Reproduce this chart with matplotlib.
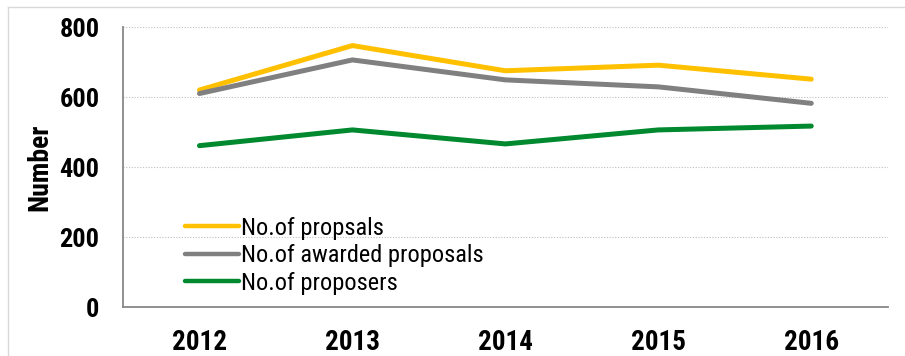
import matplotlib.pyplot as plt
from matplotlib.lines import Line2D

years = ['2012', '2013', '2014', '2015', '2016']
proposals = [620, 747, 675, 691, 651]
awarded = [610, 706, 649, 629, 582]
proposers = [461, 506, 466, 506, 517]

# Arial Narrow is not around, take a condensed face instead
bold_font = ['Roboto Condensed', 'Asap Condensed', 'DejaVu Sans']
reg_font = ['Roboto Condensed', 'Archivo Narrow', 'DejaVu Sans']

fig = plt.figure(figsize=(9.05, 3.56), dpi=100)
ax = fig.add_axes([0.1359, 0.1376, 0.845, 0.7865])

x = range(len(years))
style = dict(lw=3.6, solid_capstyle='round', solid_joinstyle='round')
ax.plot(x, proposals, color='#FFC000', label='No.of propsals', **style)
ax.plot(x, awarded, color='#808080', label='No.of awarded proposals', **style)
ax.plot(x, proposers, color='#00892F', label='No.of proposers', **style)

ax.set_xlim(-0.5, 4.5)
ax.set_ylim(0, 800)
ax.set_yticks([0, 200, 400, 600, 800])
ax.set_xticks(list(x))
ax.set_xticklabels(years, family=bold_font, fontsize=19.5, fontweight='bold')
for lab in ax.get_yticklabels():
    lab.set_family(bold_font)
    lab.set_fontsize(19)
    lab.set_fontweight('bold')
ax.tick_params(length=0)
ax.tick_params(axis='x', pad=16)
ax.tick_params(axis='y', pad=17)

ax.grid(axis='y', color='#BFBFBF', lw=0.8, ls=(0, (1, 1.5)))
ax.set_axisbelow(True)
for s in ['top', 'right']:
    ax.spines[s].set_visible(False)
for s in ['left', 'bottom']:
    ax.spines[s].set_color('#888888')
    ax.spines[s].set_linewidth(1.3)

ax.set_ylabel('Number', family=bold_font, fontsize=20, fontweight='bold')
ax.yaxis.set_label_coords(-0.091, 0.5)

leg = ax.legend(loc='upper left', bbox_to_anchor=(0.0685, 0.358), frameon=False,
                prop={'family': reg_font, 'size': 17.6}, handlelength=2.2,
                handletextpad=0.1, labelspacing=0.19, borderaxespad=0)
for h in leg.get_lines():
    h.set_linewidth(3.2)

# light border round the chart
fig.add_artist(Line2D([8/905, 1], [1-7/356, 1-7/356], color='#D9D9D9', lw=1))
fig.add_artist(Line2D([8/905, 8/905], [0, 1-7/356], color='#D9D9D9', lw=1))

fig.savefig('out.png', dpi=100)
